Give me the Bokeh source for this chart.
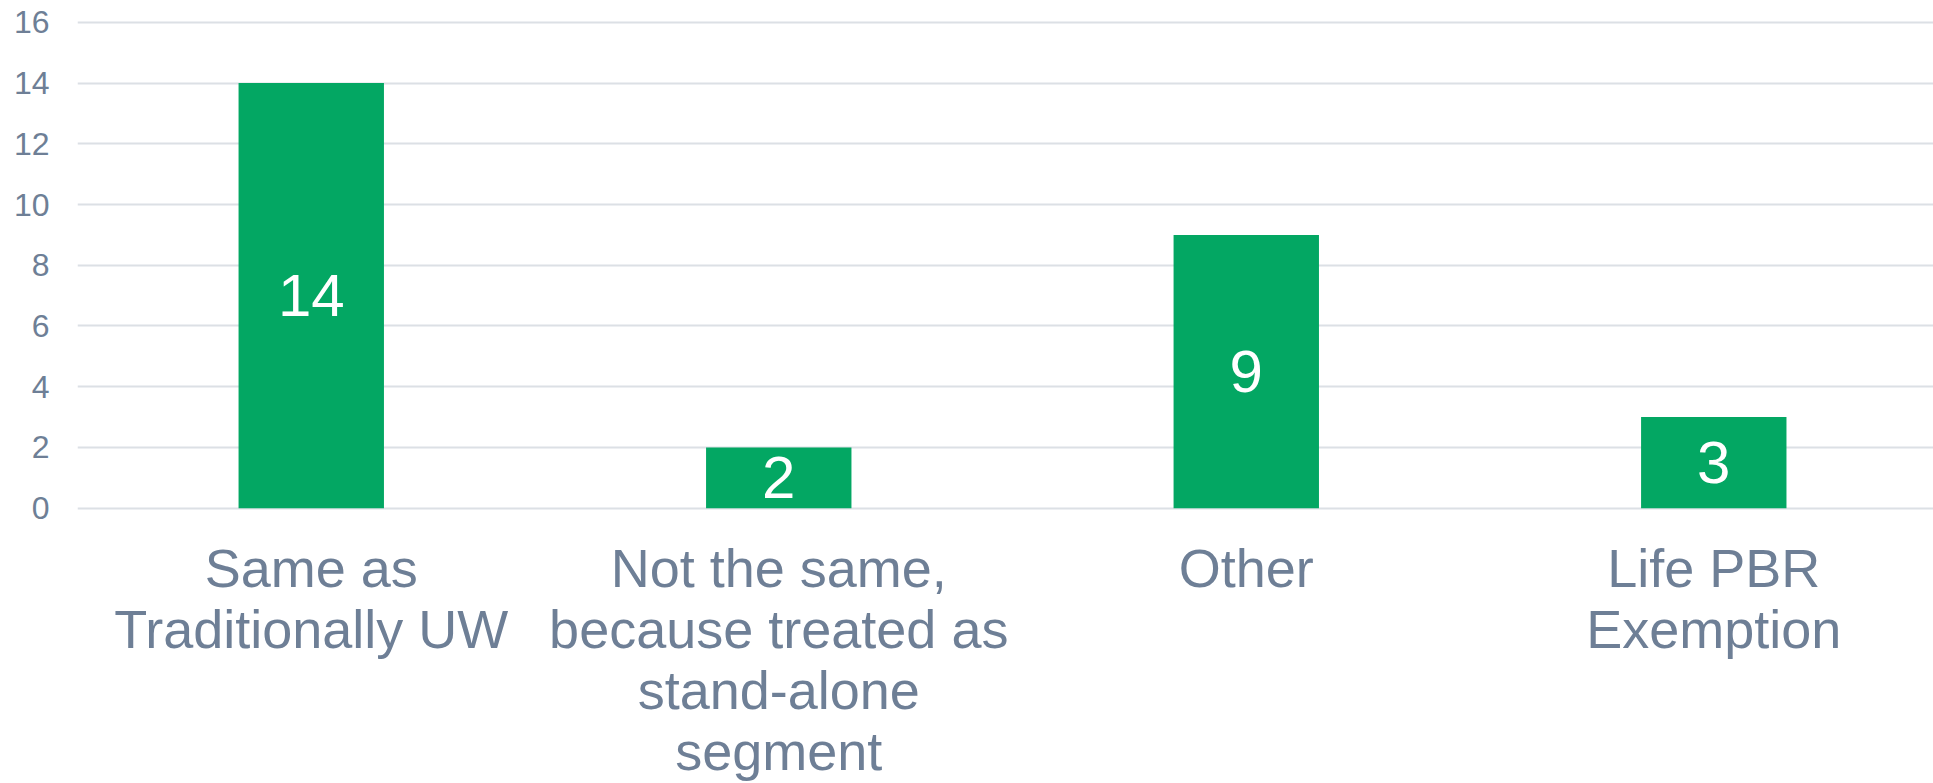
from bokeh.plotting import figure
from bokeh.models import ColumnDataSource, Range1d, FixedTicker
from bokeh.core.properties import value
from bokeh.embed import file_html
from bokeh.resources import INLINE

categories = ["Same as\nTraditionally UW",
              "Not the same,\nbecause treated as\nstand-alone\nsegment",
              "Other",
              "Life PBR\nExemption"]
counts = [14, 2, 9, 3]
y_ticks = [0, 2, 4, 6, 8, 10, 12, 14, 16]

GREEN = "#03A763"
TEXT = "#6E7F96"
GRID = "#DCE0E5"
FONT = "Liberation Sans"

xs = list(range(len(categories)))
src = ColumnDataSource(dict(
    x=xs,
    top=counts,
    mid=[c / 2 for c in counts],
    lbl=[str(c) for c in counts],
    cat=categories,
))

p = figure(width=1933, height=783, output_backend="svg", toolbar_location=None,
           x_range=Range1d(-0.5, 3.47), y_range=Range1d(-9.07, 16.72),
           min_border_left=77, min_border_right=0, min_border_top=0,
           min_border_bottom=0)
p.outline_line_color = None
p.background_fill_color = "white"
p.border_fill_color = "white"
p.xaxis.visible = False

p.vbar(x="x", top="top", bottom=0, width=0.311, source=src,
       fill_color=GREEN, line_color=None)
p.text(x="x", y="mid", text="lbl", source=src, text_color="white",
       text_font=value(FONT), text_font_size="60px",
       text_align="center", text_baseline="middle")

# category labels below the zero line
p.text(x="x", y=-1.0, text="cat", source=src, text_color=TEXT,
       text_font=value(FONT), text_font_size="54px",
       text_align="center", text_baseline="top", text_line_height=1.016)

# grid
p.xgrid.grid_line_color = None
p.ygrid.ticker = FixedTicker(ticks=y_ticks)
p.ygrid.grid_line_color = GRID
p.ygrid.grid_line_width = 2

# y axis
p.yaxis.ticker = FixedTicker(ticks=y_ticks)
p.yaxis.axis_line_color = None
p.yaxis.major_tick_line_color = None
p.yaxis.minor_tick_line_color = None
p.yaxis.major_label_text_font = FONT
p.yaxis.major_label_text_font_size = "32px"
p.yaxis.major_label_text_color = TEXT
p.yaxis.major_label_standoff = 22

open("out.html", "w").write(file_html(p, INLINE))
